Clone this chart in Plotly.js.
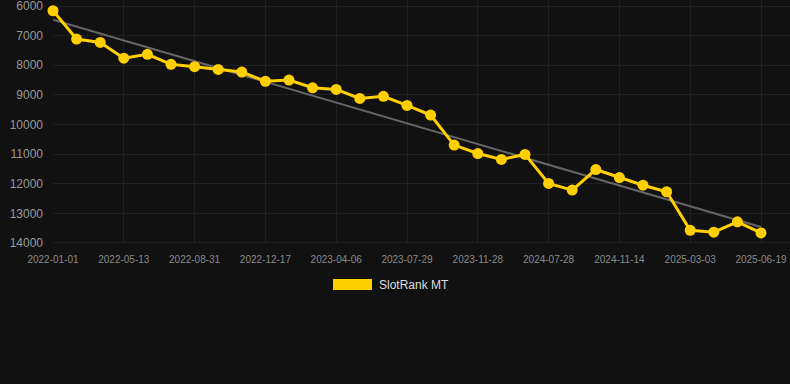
<!DOCTYPE html>
<html>
<head>
<meta charset="utf-8">
<script src="https://cdn.plot.ly/plotly-3.0.1.min.js"></script>
<style>
  html, body { margin: 0; padding: 0; background: #111111; }
  #chart { width: 790px; height: 384px; }
</style>
</head>
<body>
<div id="chart"></div>
<script>
// Dates of the observations (every third one is labelled on the axis)
const dates = [
  "2022-01-01", "2022-02-07", "2022-03-26", "2022-05-13", "2022-06-20", "2022-07-25",
  "2022-08-31", "2022-10-05", "2022-11-10", "2022-12-17", "2023-01-22", "2023-02-28",
  "2023-04-06", "2023-05-14", "2023-06-21", "2023-07-29", "2023-09-06", "2023-10-18",
  "2023-11-28", "2024-02-15", "2024-05-05", "2024-07-28", "2024-09-03", "2024-10-09",
  "2024-11-14", "2024-12-20", "2025-01-25", "2025-03-03", "2025-04-08", "2025-05-14",
  "2025-06-19"
];

// Rank values
const rankValues = [
  6160, 7115, 7230, 7760, 7630, 7970,
  8050, 8140, 8230, 8540, 8500, 8760,
  8815, 9120, 9050, 9355, 9680, 10695,
  10980, 11180, 11010, 11990, 12215, 11520,
  11790, 12050, 12270, 13570, 13635, 13285,
  13660
];

// Trend line start and end values
const trendValues = [6460, 13460];

const seriesName = "SlotRank MT";
const tickLabels = dates.filter((d, i) => i % 3 === 0);
const yTicks = [6000, 7000, 8000, 9000, 10000, 11000, 12000, 13000, 14000];
const yTickText = ["6000", "7000", "8000", "9000", "10000", "11000", "12000", "13000", "14000"];

const trace = {
  x: dates,
  y: rankValues,
  type: "scatter",
  mode: "lines+markers",
  name: seriesName,
  line: { color: "#FFCF00", width: 3 },
  marker: { color: "#FFCF00", size: 11 },
  cliponaxis: false,
  showlegend: false,
  hoverinfo: "x+y"
};

const trend = {
  x: [dates[0], dates[dates.length - 1]],
  y: trendValues,
  type: "scatter",
  mode: "lines",
  line: { color: "#666666", width: 2 },
  showlegend: false,
  hoverinfo: "skip"
};

const L = 53, R = 0, T = 0, B = 141;
const plotW = 790 - L - R, plotH = 384 - T - B;
const px = (x) => (x - L) / plotW;
const py = (y) => (384 - B - y) / plotH;

const layout = {
  width: 790,
  height: 384,
  paper_bgcolor: "#111111",
  plot_bgcolor: "#111111",
  margin: { l: L, r: R, t: T, b: B },
  font: { family: "Liberation Sans, Arial, sans-serif", color: "#999999" },
  xaxis: {
    type: "category",
    categoryorder: "array",
    categoryarray: dates,
    range: [0, 737 / 23.6],
    tickvals: tickLabels,
    ticktext: tickLabels,
    tickfont: { size: 10, color: "#8a8a8a" },
    showgrid: true,
    gridcolor: "#202020",
    gridwidth: 1,
    zeroline: false,
    showline: false,
    ticks: "",
    ticklabelstandoff: 9,
    ticklabeloverflow: "allow",
    fixedrange: true
  },
  yaxis: {
    range: [14000, 6000 - 6 / 29.62 * 1000],
    tickvals: yTicks,
    ticktext: yTickText,
    tickfont: { size: 12, color: "#999999" },
    showgrid: true,
    gridcolor: "#202020",
    gridwidth: 1,
    zeroline: false,
    showline: false,
    ticks: "",
    ticklabelstandoff: 9,
    ticklabeloverflow: "allow",
    fixedrange: true
  },
  shapes: [
    {
      type: "line", xref: "paper", yref: "y",
      x0: 0, x1: 1, y0: 14000, y1: 14000,
      line: { color: "#2e2e2e", width: 1 }
    },
    {
      type: "rect", xref: "paper", yref: "paper",
      x0: px(333), x1: px(372), y0: py(290), y1: py(279),
      fillcolor: "#FFCF00", line: { width: 0 }
    }
  ],
  annotations: [
    {
      xref: "paper", yref: "paper",
      x: px(377), y: py(284.5),
      xanchor: "left", yanchor: "middle",
      text: seriesName,
      showarrow: false,
      font: { size: 12, color: "#dddddd" }
    }
  ],
  showlegend: false
};

Plotly.newPlot("chart", [trend, trace], layout, { displayModeBar: false, staticPlot: true });
</script>
</body>
</html>
